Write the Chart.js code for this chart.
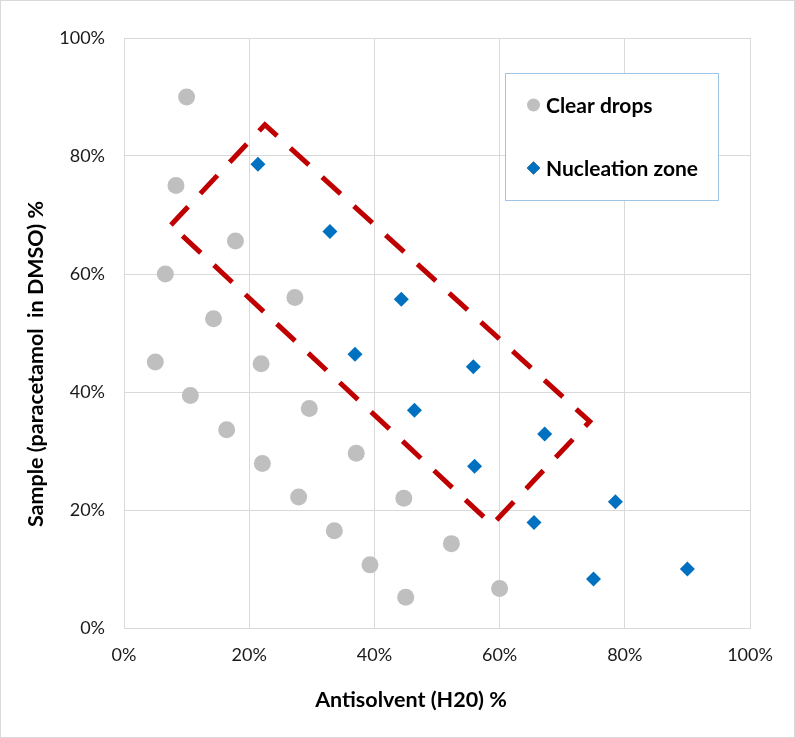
<!DOCTYPE html>
<html>
<head>
<meta charset="utf-8">
<script src="https://cdn.jsdelivr.net/npm/chart.js@4.4.1/dist/chart.umd.min.js"></script>
<style>
    html, body { margin: 0; padding: 0; background: #fff; }
    #wrap { width: 795px; height: 738px; }
</style>
</head>
<body>
<div id="wrap"><canvas id="phaseChart" width="795" height="738"></canvas></div>
<script>
// Clear drops (grey circles)
const clearX = [10, 8.3, 17.8, 6.6, 27.3, 14.3, 5, 21.9, 10.6, 29.6, 16.4, 37.1, 22.1, 27.9, 44.7, 33.6, 39.3, 45, 52.3, 60];
const clearY = [90, 75, 65.6, 60, 56, 52.4, 45.1, 44.8, 39.4, 37.2, 33.6, 29.6, 27.9, 22.2, 22, 16.5, 10.7, 5.2, 14.3, 6.7];

// Nucleation zone (blue diamonds)
const nucX = [21.4, 32.9, 44.3, 36.9, 46.4, 55.8, 67.2, 56, 78.5, 65.5, 90, 75];
const nucY = [78.6, 67.2, 55.7, 46.4, 36.9, 44.3, 32.9, 27.4, 21.4, 17.9, 10, 8.3];

// Dashed outline around the nucleation zone
const boxX = [7.5, 22.5, 74.4, 58.8, 7.5];
const boxY = [68.3, 85.3, 35, 17.5, 68.3];

const xTitle = 'Antisolvent (H20) %';
const yTitle = 'Sample (paracetamol  in DMSO) %';
const tickValues = [0, 20, 40, 60, 80, 100];

function toPoints(xs, ys) {
    return xs.map((x, i) => ({ x: x, y: ys[i] }));
}

// frame, axis titles and the boxed legend
const decorations = {
    id: 'decorations',
    beforeDraw(chart) {
        const ctx = chart.ctx;
        ctx.save();
        ctx.fillStyle = '#fff';
        ctx.fillRect(0, 0, chart.width, chart.height);
        ctx.strokeStyle = '#D9D9D9';
        ctx.lineWidth = 1;
        ctx.strokeRect(0.5, 0.5, chart.width - 1, chart.height - 1);
        ctx.restore();
    },
    afterDraw(chart) {
        const ctx = chart.ctx;
        ctx.save();
        ctx.fillStyle = '#000';
        ctx.font = 'bold 21.5px Lato';
        ctx.textAlign = 'center';
        ctx.textBaseline = 'middle';
        ctx.fillText(xTitle, 411, 700);
        ctx.translate(36, 364);
        ctx.rotate(-Math.PI / 2);
        ctx.fillText(yTitle, 0, 0);
        ctx.restore();

        // legend box
        ctx.save();
        ctx.fillStyle = '#fff';
        ctx.fillRect(505, 73, 213, 127);
        ctx.strokeStyle = '#9DC3E6';
        ctx.lineWidth = 1;
        ctx.strokeRect(505.5, 73.5, 213, 127);
        const items = chart.data.datasets.filter(d => d.label);
        ctx.font = 'bold 21px Lato';
        ctx.textAlign = 'left';
        ctx.textBaseline = 'middle';
        items.forEach((d, i) => {
            const y = 105 + i * 63;
            Chart.helpers.drawPoint(ctx, {
                pointStyle: d.pointStyle,
                radius: 6.5,
                rotation: 0,
                borderWidth: 0
            }, 533.5, y);
            ctx.fillStyle = d.backgroundColor;
            ctx.fill();
            ctx.fillStyle = '#000';
            ctx.fillText(d.label, 546, y + 1);
        });
        ctx.restore();
    }
};

const ctx = document.getElementById('phaseChart').getContext('2d');
new Chart(ctx, {
    type: 'scatter',
    data: {
        datasets: [{
            label: 'Clear drops',
            data: toPoints(clearX, clearY),
            pointStyle: 'circle',
            pointRadius: 8.5,
            backgroundColor: '#BFBFBF',
            borderWidth: 0
        }, {
            label: 'Nucleation zone',
            data: toPoints(nucX, nucY),
            pointStyle: 'rectRot',
            pointRadius: 7.5,
            backgroundColor: '#0070C0',
            borderWidth: 0
        }, {
            label: '',
            data: toPoints(boxX, boxY),
            showLine: true,
            pointRadius: 0,
            borderColor: '#C00000',
            borderWidth: 5,
            borderDash: [25, 18],
            borderCapStyle: 'butt',
            borderJoinStyle: 'miter',
            backgroundColor: 'transparent'
        }]
    },
    options: {
        responsive: false,
        animation: false,
        layout: { padding: { top: 38, right: 45, left: 0, bottom: 0 } },
        plugins: {
            legend: { display: false },
            tooltip: { enabled: false }
        },
        scales: {
            x: {
                type: 'linear',
                min: 0,
                max: 100,
                afterFit: s => { s.height = 110; },
                afterBuildTicks: s => { s.ticks = tickValues.map(v => ({ value: v })); },
                grid: { color: '#D9D9D9', drawTicks: false },
                border: { color: '#D9D9D9' },
                ticks: {
                    padding: 16,
                    color: '#1a1a1a',
                    font: { family: 'Lato', size: 18 },
                    callback: v => v + '%'
                }
            },
            y: {
                type: 'linear',
                min: 0,
                max: 100,
                afterFit: s => { s.width = 124; },
                afterBuildTicks: s => { s.ticks = tickValues.map(v => ({ value: v })); },
                grid: { color: '#D9D9D9', drawTicks: false },
                border: { color: '#D9D9D9' },
                ticks: {
                    padding: 19,
                    color: '#1a1a1a',
                    font: { family: 'Lato', size: 18 },
                    callback: v => v + '%'
                }
            }
        }
    },
    plugins: [decorations]
});
</script>
</body>
</html>
